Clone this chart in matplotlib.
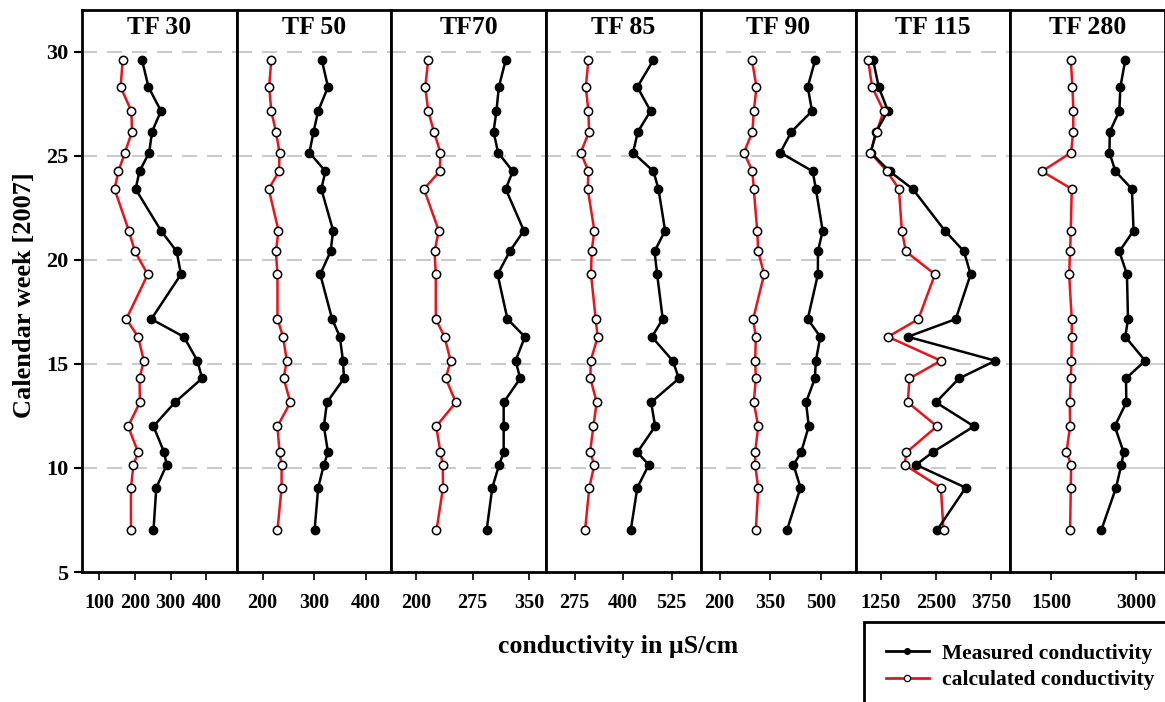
import matplotlib
matplotlib.use("Agg")
import matplotlib.pyplot as plt
from matplotlib.lines import Line2D

plt.rcParams["font.family"] = ["Liberation Serif", "DejaVu Serif"]
plt.rcParams["font.weight"] = "bold"

# sampling dates (calendar week, fractional)
WEEKS = [29.6, 28.3, 27.15, 26.15, 25.15, 24.25, 23.4, 21.4, 20.4, 19.3,
         17.15, 16.3, 15.15, 14.3, 13.15, 12.0, 10.75, 10.15, 9.05, 7.0]

PANELS = ["TF 30", "TF 50", "TF70", "TF 85", "TF 90", "TF 115", "TF 280"]
XLIMS = [(52, 485), (150, 450), (168, 372), (202, 600), (145, 601),
         (681, 4184), (785, 3506)]
XTICKS = [[100, 200, 300, 400], [200, 300, 400], [200, 275, 350],
          [275, 400, 525], [200, 350, 500], [1250, 2500, 3750], [1500, 3000]]

meas_tf30 = [220, 238, 273, 248, 240, 213, 202, 273, 317, 329,
             246, 337, 375, 388, 312, 252, 282, 289, 260, 252]
calc_tf30 = [166, 160, 190, 192, 172, 154, 143, 183, 200, 236,
             176, 209, 225, 213, 214, 181, 209, 196, 189, 189]

meas_tf50 = [315, 327, 308, 299, 291, 322, 314, 337, 332, 312,
             335, 350, 356, 358, 325, 319, 327, 319, 308, 301]
calc_tf50 = [217, 213, 217, 226, 233, 232, 212, 231, 226, 229,
             229, 240, 247, 241, 254, 229, 233, 237, 237, 229]

meas_tf70 = [318.7, 309.6, 306.5, 302.6, 308.7, 328, 318.7, 342.6, 324, 308,
             321, 344, 331.7, 337.8, 316, 316, 316, 310, 301, 293.5]
calc_tf70 = [216.5, 212.6, 216.5, 224, 232.6, 231.7, 210.9, 230.4, 224.8, 226.5,
             226.5, 238, 246, 239.6, 253, 227, 232.6, 235.7, 236, 227.4]

meas_tf85 = [478, 436.6, 470.6, 438, 425.5, 478, 491, 508, 480.8, 487.6,
             502, 474, 527.5, 543.7, 472, 482.5, 436.6, 466, 436.6, 419.6]
calc_tf85 = [310.7, 304, 310.7, 312.4, 291, 310.7, 309, 326, 319, 317.5,
             329.4, 334.5, 316.7, 315.8, 332, 323.5, 315, 326, 313, 302]

meas_tf90 = [482, 460, 472.6, 412, 379, 474.6, 484, 504, 490, 490,
             460, 497, 484, 481, 455, 463, 440.5, 418, 438.6, 398.6]
calc_tf90 = [295.4, 309, 301, 297, 272, 297, 301, 311, 314, 331.5,
             299, 307, 305, 307, 301, 314, 305, 305, 314, 307]

meas_tf115 = [1078, 1205, 1415, 1145, 1025, 1452, 1976, 2702, 3136, 3286,
              2949, 1864, 3847, 3024, 2500, 3361, 2425, 2051, 3174, 2522]
calc_tf115 = [966, 1055, 1317, 1160, 1018, 1392, 1662, 1729, 1819, 2478,
              2103, 1415, 2612, 1901, 1864, 2522, 1834, 1789, 2612, 2672]

meas_tf280 = [2808, 2721, 2703, 2535, 2529, 2634, 2924, 2953, 2703, 2837,
              2855, 2808, 3157, 2820, 2826, 2622, 2779, 2738, 2645, 2384]
calc_tf280 = [1849, 1878, 1895, 1890, 1855, 1343, 1866, 1849, 1837, 1820,
              1866, 1866, 1860, 1849, 1831, 1837, 1773, 1855, 1849, 1837]

MEASURED = [meas_tf30, meas_tf50, meas_tf70, meas_tf85, meas_tf90, meas_tf115, meas_tf280]
CALCULATED = [calc_tf30, calc_tf50, calc_tf70, calc_tf85, calc_tf90, calc_tf115, calc_tf280]

W, H = 1165, 702
fig = plt.figure(figsize=(W / 100, H / 100), dpi=100)

left, right = 82 / W, 1.0
bottom, top = 1 - 572 / H, 1 - 10 / H
pw = (right - left) / len(PANELS)

for i, name in enumerate(PANELS):
    ax = fig.add_axes([left + i * pw, bottom, pw, top - bottom])
    for yg in [10, 15, 20, 25, 30]:
        if i == len(PANELS) - 1:
            ax.axhline(yg, color="#c8c8c8", lw=1.2, zorder=0)
        else:
            ax.axhline(yg, color="#c0c0c0", lw=1.2, ls=(0, (9, 6)), zorder=0)
    ax.plot(CALCULATED[i], WEEKS, "-", color="#e8141b", lw=1.8, zorder=2)
    ax.plot(CALCULATED[i], WEEKS, "o", mfc="white", mec="black", mew=1.1,
            ms=6, zorder=4)
    ax.plot(MEASURED[i], WEEKS, "-o", color="black", lw=1.8, ms=6, zorder=3)
    ax.set_xlim(*XLIMS[i])
    ax.set_ylim(5, 32)
    ax.set_xticks(XTICKS[i])
    ax.tick_params(axis="x", direction="out", length=6, width=1.2,
                   labelsize=14.5, pad=9)
    if i == 0:
        ax.set_yticks([5, 10, 15, 20, 25, 30])
        ax.tick_params(axis="y", direction="out", length=6, width=1.5,
                       labelsize=16, pad=4)
    else:
        ax.set_yticks([])
    for lab in ax.get_xticklabels() + ax.get_yticklabels():
        lab.set_fontweight("bold")
    for sp in ax.spines.values():
        sp.set_linewidth(2.0)
    ax.text(0.5, 0.968, name, transform=ax.transAxes, ha="center",
            va="center", fontsize=18.5, fontweight="bold")

fig.text(25 / W, 1 - 295 / H, "Calendar week [2007]", rotation=90,
         ha="center", va="center", fontsize=19, fontweight="bold")
fig.text(618 / W, 1 - 646 / H, "conductivity in µS/cm", ha="center",
         va="center", fontsize=18.5, fontweight="bold")

handles = [
    Line2D([], [], color="black", lw=2, marker="o", ms=4),
    Line2D([], [], color="#e8141b", lw=2, marker="o", ms=4.5, mfc="white",
           mec="black", mew=0.9),
]
leg = fig.legend(handles, ["Measured conductivity", "calculated conductivity"],
                 loc="upper left", bbox_to_anchor=(864 / W, 1 - 622 / H),
                 borderaxespad=0, fontsize=15.5, handlelength=2.0,
                 handletextpad=0.6, borderpad=1.0, labelspacing=0.3,
                 fancybox=False, edgecolor="black", framealpha=1)
leg.get_frame().set_linewidth(2.0)

fig.savefig("out.png", dpi=100)
